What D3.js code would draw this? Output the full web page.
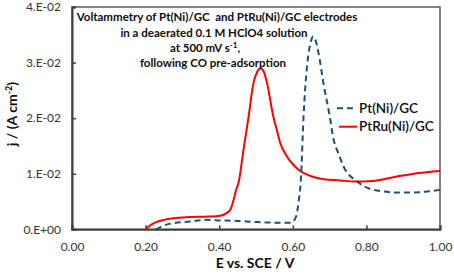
<!DOCTYPE html>
<html>
<head>
<meta charset="utf-8">
<script src="https://cdn.jsdelivr.net/npm/d3@7"></script>
<style>
html,body{margin:0;padding:0;background:#fff;}
svg{display:block;font-family:Lato, "Open Sans", sans-serif;}
text{white-space:pre;}
</style>
</head>
<body>
<svg id="chart" width="454" height="277"></svg>
<script>
// ---- data ----
const xTicks = [0, 0.2, 0.4, 0.6, 0.8, 1.0];
const xTickLabels = ["0.00", "0.20", "0.40", "0.60", "0.80", "1.00"];
const yTicks = [0, 0.01, 0.02, 0.03, 0.04];
const yTickLabels = ["0.E+00", "1.E-02", "2.E-02", "3.E-02", "4.E-02"];

const ptE = [0.228,0.240,0.255,0.275,0.320,0.366,0.403,0.450,0.500,0.548,0.593,0.607,0.616,0.622,0.629,0.634,0.643,0.650,0.655,0.662,0.670,0.684,0.700,0.711,0.725,0.738,0.775,0.820,0.893,0.950,1.000];
const ptJ = [0,0.0004,0.0008,0.0011,0.0014,0.0017,0.0016,0.0015,0.0013,0.0012,0.0012,0.0020,0.0050,0.0090,0.0200,0.0257,0.0317,0.0340,0.0347,0.0340,0.0317,0.0260,0.0205,0.0161,0.0135,0.0113,0.0086,0.0071,0.0066,0.0067,0.0071];

const ptruE = [0.200,0.210,0.226,0.250,0.276,0.320,0.370,0.403,0.420,0.430,0.440,0.446,0.453,0.466,0.480,0.493,0.503,0.512,0.521,0.530,0.547,0.556,0.566,0.584,0.600,0.620,0.648,0.684,0.730,0.765,0.820,0.883,0.938,1.000];
const ptruJ = [0,0.0006,0.0012,0.0017,0.0020,0.0022,0.0023,0.00245,0.0029,0.0035,0.0055,0.0071,0.0085,0.0143,0.0203,0.0263,0.0283,0.0290,0.0284,0.0263,0.0203,0.0180,0.0155,0.0131,0.0117,0.0105,0.0096,0.0090,0.0088,0.0086,0.0087,0.0095,0.0101,0.0105];

const seriesNames = ["Pt(Ni)/GC", "PtRu(Ni)/GC"];
const titleLines = ["Voltammetry of Pt(Ni)/GC  and PtRu(Ni)/GC electrodes", "in a deaerated 0.1 M HClO4 solution", "at 500 mV s", "following CO pre-adsorption"];

// ---- layout ----
const svg = d3.select("#chart");
const L = 72, R = 440, T = 7, B = 229.3;
const x = d3.scaleLinear().domain([0, 1]).range([L, R]);
const y = d3.scaleLinear().domain([0, 0.04]).range([B, T]);

// frame
svg.append("rect").attr("x", L).attr("y", T).attr("width", R - L).attr("height", B - T)
  .attr("fill", "none").attr("stroke", "#595959").attr("stroke-width", 1.5);

// axes
const xAxis = d3.axisBottom(x).tickValues(xTicks).tickFormat((d, i) => xTickLabels[i])
  .tickSize(-4).tickPadding(13);
const gx = svg.append("g").attr("transform", `translate(0,${B})`).call(xAxis);
const yAxis = d3.axisLeft(y).tickValues(yTicks).tickFormat((d, i) => yTickLabels[i])
  .tickSize(-4).tickPadding(11);
const gy = svg.append("g").attr("transform", `translate(${L},0)`).call(yAxis);
[gx, gy].forEach(g => {
  g.select(".domain").attr("stroke", "#404040").attr("stroke-width", 2);
  g.selectAll(".tick line").attr("stroke", "#404040").attr("stroke-width", 1.5);
  g.selectAll(".tick text").attr("fill", "#333").style("font-size", "12px").style("font-family", "Lato, sans-serif");
});

// lines
const line = d3.line().x(d => x(d[0])).y(d => y(d[1])).curve(d3.curveMonotoneX);
const ptData = ptE.map((e, i) => [e, ptJ[i]]);
const ptruData = ptruE.map((e, i) => [e, ptruJ[i]]);

svg.append("path").datum(ptruData).attr("d", line)
  .attr("fill", "none").attr("stroke", "#ff0000").attr("stroke-width", 2);
svg.append("path").datum(ptData).attr("d", line)
  .attr("fill", "none").attr("stroke", "#1f4e79").attr("stroke-width", 2)
  .attr("stroke-dasharray", "6,4");

// title text
const tx = 217;
const tg = svg.append("g").attr("font-weight", "bold").attr("font-size", "11.5px").attr("fill", "#0d0d0d");
tg.append("text").attr("x", tx).attr("y", 21).attr("text-anchor", "middle").text(titleLines[0]);
tg.append("text").attr("x", 214).attr("y", 36.5).attr("text-anchor", "middle").text(titleLines[1]);
const t3 = tg.append("text").attr("x", 205).attr("y", 51.5).attr("text-anchor", "middle");
t3.append("tspan").text(titleLines[2]);
t3.append("tspan").attr("dy", -4).attr("font-size", "8px").text("-1");
t3.append("tspan").attr("dy", 4).text(",");
tg.append("text").attr("x", 213).attr("y", 66.5).attr("text-anchor", "middle").text(titleLines[3]);

// legend
const lg = svg.append("g").attr("font-size", "13.5px").attr("font-weight", 600).attr("fill", "#0d0d0d");
lg.append("line").attr("x1", 337).attr("x2", 355).attr("y1", 108.3).attr("y2", 108.3)
  .attr("stroke", "#1f4e79").attr("stroke-width", 2).attr("stroke-dasharray", "6,4");
lg.append("text").attr("x", 359).attr("y", 112.5).text(seriesNames[0]);
lg.append("line").attr("x1", 339).attr("x2", 357).attr("y1", 126.7).attr("y2", 126.7)
  .attr("stroke", "#ff0000").attr("stroke-width", 2);
lg.append("text").attr("x", 359).attr("y", 130.5).text(seriesNames[1]);

// axis titles
svg.append("text").attr("x", 255).attr("y", 268).attr("text-anchor", "middle")
  .attr("font-weight", "bold").attr("font-size", "14px").attr("fill", "#0d0d0d").text("E vs. SCE / V");
const yt = svg.append("text").attr("transform", "translate(17,114) rotate(-90)").attr("text-anchor", "middle")
  .attr("font-weight", "bold").attr("font-size", "14px").attr("fill", "#0d0d0d");
yt.append("tspan").text("j / (A cm");
yt.append("tspan").attr("dy", -5).attr("font-size", "9px").text("-2");
yt.append("tspan").attr("dy", 5).text(")");
</script>
</body>
</html>
